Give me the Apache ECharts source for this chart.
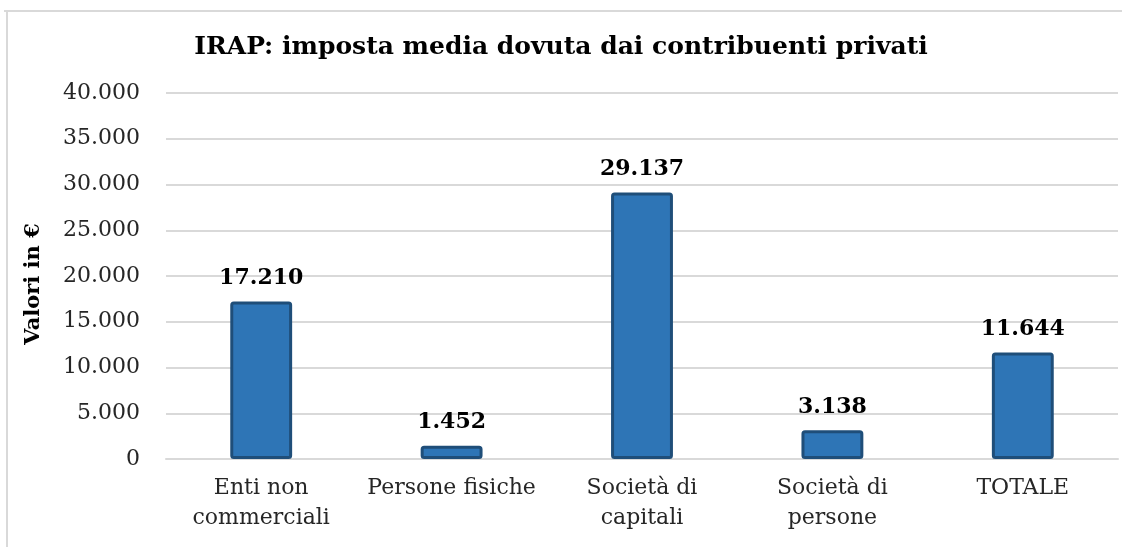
<!DOCTYPE html>
<html>
<head>
<meta charset="utf-8">
<title>IRAP: imposta media dovuta dai contribuenti privati</title>
<script src="https://cdn.jsdelivr.net/npm/echarts@6/dist/echarts.min.js"></script>
<style>
  html, body { margin: 0; padding: 0; background: #fff; overflow: hidden; }
  #chart { width: 1122px; height: 547px; }
</style>
</head>
<body>
<div id="chart"></div>
<script>
// categorie e valori (imposta media in euro)
const categories = ['Enti non\ncommerciali', 'Persone fisiche', 'Società di\ncapitali', 'Società di\npersone', 'TOTALE']
const values = [17210, 1452, 29137, 3138, 11644]
const yTicks = { min: 0, max: 40000, step: 5000 }

const fontFamily = 'DejaVu Serif'

// 12345 -> "12.345"
function fmt(v) {
  return String(v).replace(/\B(?=(\d{3})+(?!\d))/g, '.')
}

const option = {
  animation: false,
  backgroundColor: '#fff',
  title: {
    text: 'IRAP: imposta media dovuta dai contribuenti privati',
    left: 'center',
    top: 30,
    textStyle: { fontFamily, fontSize: 25, fontWeight: 'bold', color: '#000' }
  },
  // cornice del grafico (solo lati sinistro e superiore visibili)
  graphic: [
    {
      type: 'line',
      silent: true,
      shape: { x1: 7, y1: 11, x2: 7, y2: 547 },
      style: { stroke: '#d9d9d9', lineWidth: 2 }
    },
    {
      type: 'line',
      silent: true,
      shape: { x1: 4, y1: 11, x2: 1122, y2: 11 },
      style: { stroke: '#d9d9d9', lineWidth: 2 }
    }
  ],
  grid: { left: 166, right: 4, top: 93, bottom: 88 },
  xAxis: {
    type: 'category',
    data: categories,
    axisLine: { lineStyle: { color: '#d9d9d9', width: 2 } },
    axisTick: { show: false },
    axisLabel: {
      interval: 0,
      margin: 14,
      fontFamily,
      fontSize: 22,
      lineHeight: 30,
      color: '#262626'
    }
  },
  yAxis: {
    type: 'value',
    min: yTicks.min,
    max: yTicks.max,
    interval: yTicks.step,
    name: 'Valori in €',
    nameLocation: 'middle',
    nameRotate: 90,
    nameGap: 122,
    nameTextStyle: { fontFamily, fontSize: 21, fontWeight: 'bold', color: '#000', padding: [0, 16, 0, 0] },
    axisLine: { show: false },
    axisTick: { show: false },
    splitLine: { lineStyle: { color: '#d9d9d9', width: 2 } },
    axisLabel: {
      margin: 26,
      fontFamily,
      fontSize: 22,
      color: '#262626',
      formatter: v => fmt(v)
    }
  },
  series: [
    {
      type: 'bar',
      data: values,
      barWidth: '32.5%',
      itemStyle: {
        color: '#2e75b6',
        borderColor: '#1f4e79',
        borderWidth: 3,
        borderRadius: 2
      },
      label: {
        show: true,
        position: 'top',
        distance: 12,
        fontFamily,
        fontSize: 22,
        fontWeight: 'bold',
        color: '#000',
        formatter: p => fmt(p.value)
      }
    }
  ]
}

const chart = echarts.init(document.getElementById('chart'))
chart.setOption(option)
</script>
</body>
</html>
